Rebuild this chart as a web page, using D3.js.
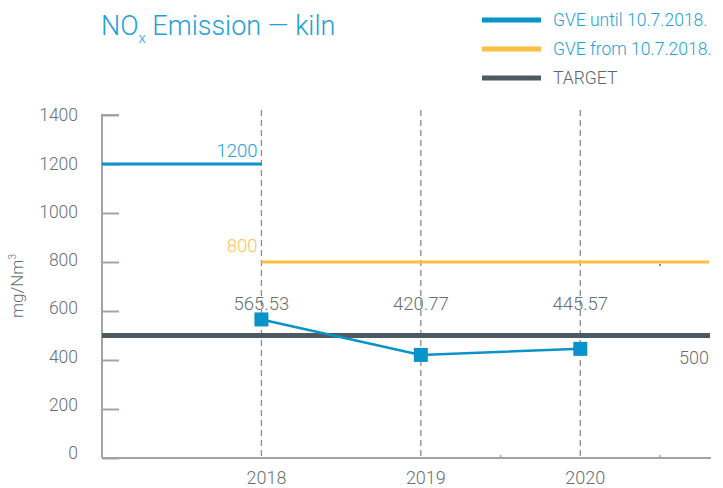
<!DOCTYPE html>
<html>
<head>
<meta charset="utf-8">
<script src="https://cdn.jsdelivr.net/npm/d3@7"></script>
<style>
  html, body { margin: 0; padding: 0; background: #fff; }
  svg { display: block; font-family: Roboto, "Liberation Sans", sans-serif; font-weight: 300; }
</style>
</head>
<body>
<svg id="chart" width="723" height="488"></svg>
<script>
// Measured NOx emissions per year (mg/Nm³)
const years = ["2018", "2019", "2020"];
const emissions = [565.53, 420.77, 445.57];
// Emission limits and company target
const limitUntil = 1200;   // GVE until 10.7.2018.
const limitFrom = 800;     // GVE from 10.7.2018.
const target = 500;
const yTicks = [0, 200, 400, 600, 800, 1000, 1200, 1400];
const legendLabels = ["GVE until 10.7.2018.", "GVE from 10.7.2018.", "TARGET"];

const C = {
  blue: "#0a93c9", blueText: "#1e9fd8", yellow: "#fcc040", yellowText: "#fcc55a",
  target: "#4e5a62", axis: "#a0a4aa", text: "#6a6f73", dash: "#8a8d90"
};

const svg = d3.select("#chart");
const plotLeft = 102, plotRight = 711, plotTop = 115, plotBottom = 458;

const y = d3.scaleLinear().domain([0, 1400]).range([plotBottom, plotTop]);
// x axis runs from one step before 2018 to a little past 2020
const x = d3.scaleLinear().domain([-1, 2.82]).range([plotLeft, plotRight]);
const xYear = i => x(i);

// Title
const title = svg.append("text").attr("x", 101).attr("y", 35)
  .attr("fill", C.blueText).attr("font-size", 27);
title.append("tspan").text("NO");
title.append("tspan").text("x").attr("font-size", 15).attr("dy", 8);
title.append("tspan").text(" Emission — kiln").attr("dy", -8);

// Legend
const legColors = [C.blue, C.yellow, C.target];
const legText = [C.blueText, C.blueText, "#5a6770"];
const leg = svg.append("g");
legendLabels.forEach((t, i) => {
  const ly = 20 + i * 29;
  leg.append("line").attr("x1", 482).attr("x2", 541).attr("y1", ly).attr("y2", ly)
    .attr("stroke", legColors[i]).attr("stroke-width", 5);
  leg.append("text").attr("x", 553).attr("y", ly).attr("dy", "0.36em")
    .attr("fill", legText[i]).attr("font-size", 17.5).text(t);
});

// Y axis
const yAxis = svg.append("g").attr("transform", `translate(${plotLeft},0)`)
  .call(d3.axisRight(y).tickValues(yTicks).tickSize(17).tickFormat(""));
yAxis.select(".domain").attr("stroke", C.axis).attr("stroke-width", 2)
  .attr("d", `M17,${plotTop}H0V${plotBottom}`);
yAxis.selectAll(".tick line").attr("stroke", C.axis).attr("stroke-width", 2);
svg.append("g").selectAll("text").data(yTicks).join("text")
  .attr("x", 78).attr("y", d => y(d) - (5 - d / 280))
  .attr("dy", "0.36em").attr("text-anchor", "end")
  .attr("fill", C.text).attr("font-size", 17.5).text(d => d);

svg.append("text").attr("transform", "translate(23,286) rotate(-90)")
  .attr("text-anchor", "middle").attr("fill", C.text).attr("font-size", 17)
  .html('mg/Nm<tspan font-size="10" dy="-7">3</tspan>');

// X axis
svg.append("line").attr("x1", plotLeft).attr("x2", plotRight).attr("y1", plotBottom).attr("y2", plotBottom)
  .attr("stroke", C.axis).attr("stroke-width", 2);
const minorTicks = [1.5, 2.5];
svg.append("g").selectAll("line").data(minorTicks).join("line")
  .attr("x1", d => x(d)).attr("x2", d => x(d)).attr("y1", plotBottom - 3).attr("y2", plotBottom)
  .attr("stroke", C.axis).attr("stroke-width", 1.5);
svg.append("g").selectAll("text").data(years).join("text")
  .attr("x", (d, i) => xYear(i) + 5).attr("y", 478).attr("dy", "0.36em")
  .attr("text-anchor", "middle").attr("fill", C.text).attr("font-size", 18).text(d => d);

// Dashed year guides
svg.append("g").selectAll("line").data(years).join("line")
  .attr("x1", (d, i) => xYear(i)).attr("x2", (d, i) => xYear(i))
  .attr("y1", 110).attr("y2", plotBottom)
  .attr("stroke", C.dash).attr("stroke-width", 1.3).attr("stroke-dasharray", "6,4");

// Limit lines
svg.append("line").attr("x1", plotLeft).attr("x2", xYear(0))
  .attr("y1", y(limitUntil)).attr("y2", y(limitUntil))
  .attr("stroke", C.blue).attr("stroke-width", 3);
svg.append("text").attr("x", xYear(0) - 4).attr("y", y(limitUntil) - 14).attr("dy", "0.36em")
  .attr("text-anchor", "end").attr("fill", C.blueText).attr("font-size", 18.5).text(limitUntil);

svg.append("line").attr("x1", xYear(0)).attr("x2", 709)
  .attr("y1", y(limitFrom)).attr("y2", y(limitFrom))
  .attr("stroke", C.yellow).attr("stroke-width", 3);
svg.append("text").attr("x", xYear(0) - 4).attr("y", y(limitFrom) - 17).attr("dy", "0.36em")
  .attr("text-anchor", "end").attr("fill", C.yellowText).attr("font-size", 18.5).text(limitFrom);
svg.append("rect").attr("x", x(2.5) - 1).attr("y", y(limitFrom) + 2).attr("width", 2).attr("height", 2)
  .attr("fill", C.dash);

// Target
svg.append("line").attr("x1", plotLeft).attr("x2", 710)
  .attr("y1", y(target)).attr("y2", y(target))
  .attr("stroke", C.target).attr("stroke-width", 5);
svg.append("text").attr("x", 709).attr("y", y(target) + 22).attr("dy", "0.36em")
  .attr("text-anchor", "end").attr("fill", C.text).attr("font-size", 18).text(target);

// Emission series
const line = d3.line().x((d, i) => xYear(i)).y(d => y(d));
svg.append("path").datum(emissions).attr("d", line)
  .attr("fill", "none").attr("stroke", C.blue).attr("stroke-width", 2.5);
svg.append("g").selectAll("rect").data(emissions).join("rect")
  .attr("x", (d, i) => xYear(i) - 7).attr("y", d => y(d) - 7)
  .attr("width", 14).attr("height", 14).attr("fill", C.blue);
svg.append("g").selectAll("text").data(emissions).join("text")
  .attr("x", (d, i) => xYear(i)).attr("y", 303).attr("dy", "0.36em")
  .attr("text-anchor", "middle").attr("fill", C.text).attr("font-size", 18.5)
  .text(d => d.toFixed(2));
</script>
</body>
</html>
